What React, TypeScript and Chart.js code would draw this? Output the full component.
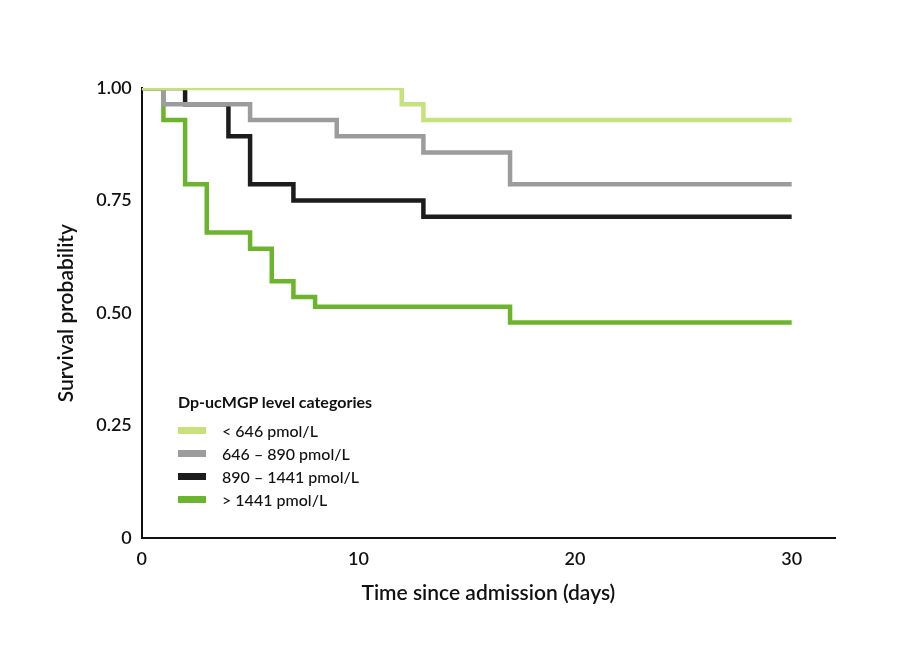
import React, { useEffect, useRef } from "react";
import { Chart, registerables } from "chart.js";
Chart.register(...registerables);

const xLow = [0, 12, 13, 30];
const yLow = [1.0, 0.964, 0.929, 0.929];
const xMid = [0, 1, 5, 9, 13, 17, 30];
const yMid = [1.0, 0.964, 0.929, 0.893, 0.857, 0.786, 0.786];
const xHigh = [0, 2, 4, 5, 7, 13, 30];
const yHigh = [1.0, 0.964, 0.893, 0.786, 0.75, 0.714, 0.714];
const xTop = [0, 1, 2, 3, 5, 6, 7, 8, 17, 30];
const yTop = [1.0, 0.929, 0.786, 0.679, 0.643, 0.571, 0.536, 0.514, 0.479, 0.479];
const labels = ["< 646 pmol/L", "646 – 890 pmol/L", "890 – 1441 pmol/L", "> 1441 pmol/L"];
const colors = ["#c6e27c", "#9c9c9c", "#1c1c1c", "#6db42e"];
const FONT = "Lato, 'Noto Sans', sans-serif";

const pts = (xs: number[], ys: number[]) => xs.map((x, i) => ({ x, y: ys[i] }));

export default function App() {
  const ref = useRef<HTMLCanvasElement>(null);
  useEffect(() => {
    const series = [pts(xLow, yLow), pts(xMid, yMid), pts(xHigh, yHigh), pts(xTop, yTop)];
    const chart = new Chart(ref.current!, {
      type: "line",
      data: {
        datasets: series.map((d, i) => ({
          label: labels[i], data: d, borderColor: colors[i], backgroundColor: colors[i],
          borderWidth: 4.5, pointRadius: 0, stepped: "before" as const, fill: false,
        })),
      },
      options: {
        animation: false, responsive: false,
        layout: { padding: { left: 50, top: 88, right: 76, bottom: 38 } },
        plugins: { legend: { display: false }, tooltip: { enabled: false } },
        scales: {
          x: {
            type: "linear", min: 0, max: 32,
            grid: { display: false, drawTicks: true, tickLength: 7, tickColor: "#111" } as any,
            border: { color: "#111", width: 2 },
            ticks: { stepSize: 10, color: "#111", font: { family: FONT, size: 18, weight: 600 as any },
              callback: (v: any) => (v % 10 === 0 && v <= 30 ? String(v) : "") },
            title: { display: true, text: "Time since admission (days)", color: "#111",
              font: { family: FONT, size: 21, weight: 600 as any }, padding: { top: 8 } },
          },
          y: {
            min: 0, max: 1,
            grid: { display: false, drawTicks: true, tickLength: 7, tickColor: "#111" } as any,
            border: { color: "#111", width: 2 },
            ticks: { stepSize: 0.25, color: "#111", font: { family: FONT, size: 18, weight: 600 as any },
              callback: (v: any) => (v === 0 ? "0" : Number(v).toFixed(2)) },
            title: { display: true, text: "Survival probability", color: "#111",
              font: { family: FONT, size: 21, weight: 600 as any }, padding: { bottom: 14 } },
          },
        },
      },
    });
    return () => chart.destroy();
  }, []);
  return (
    <div style={{ position: "absolute", left: 0, top: 0, width: 911, height: 648, background: "#fff" }}>
      <canvas ref={ref} width={911} height={648} />
      <div style={{ position: "absolute", left: 178, top: 392, fontFamily: FONT, color: "#111" }}>
        <div style={{ fontWeight: 700, fontSize: 16, marginBottom: 8 }}>Dp-ucMGP level categories</div>
        {labels.map((l, i) => (
          <div key={i} style={{ display: "flex", alignItems: "center", height: 23, fontSize: 16, fontWeight: 500 }}>
            <span style={{ display: "inline-block", width: 28, height: 7, background: colors[i], marginRight: 16 }} />
            {l}
          </div>
        ))}
      </div>
    </div>
  );
}
